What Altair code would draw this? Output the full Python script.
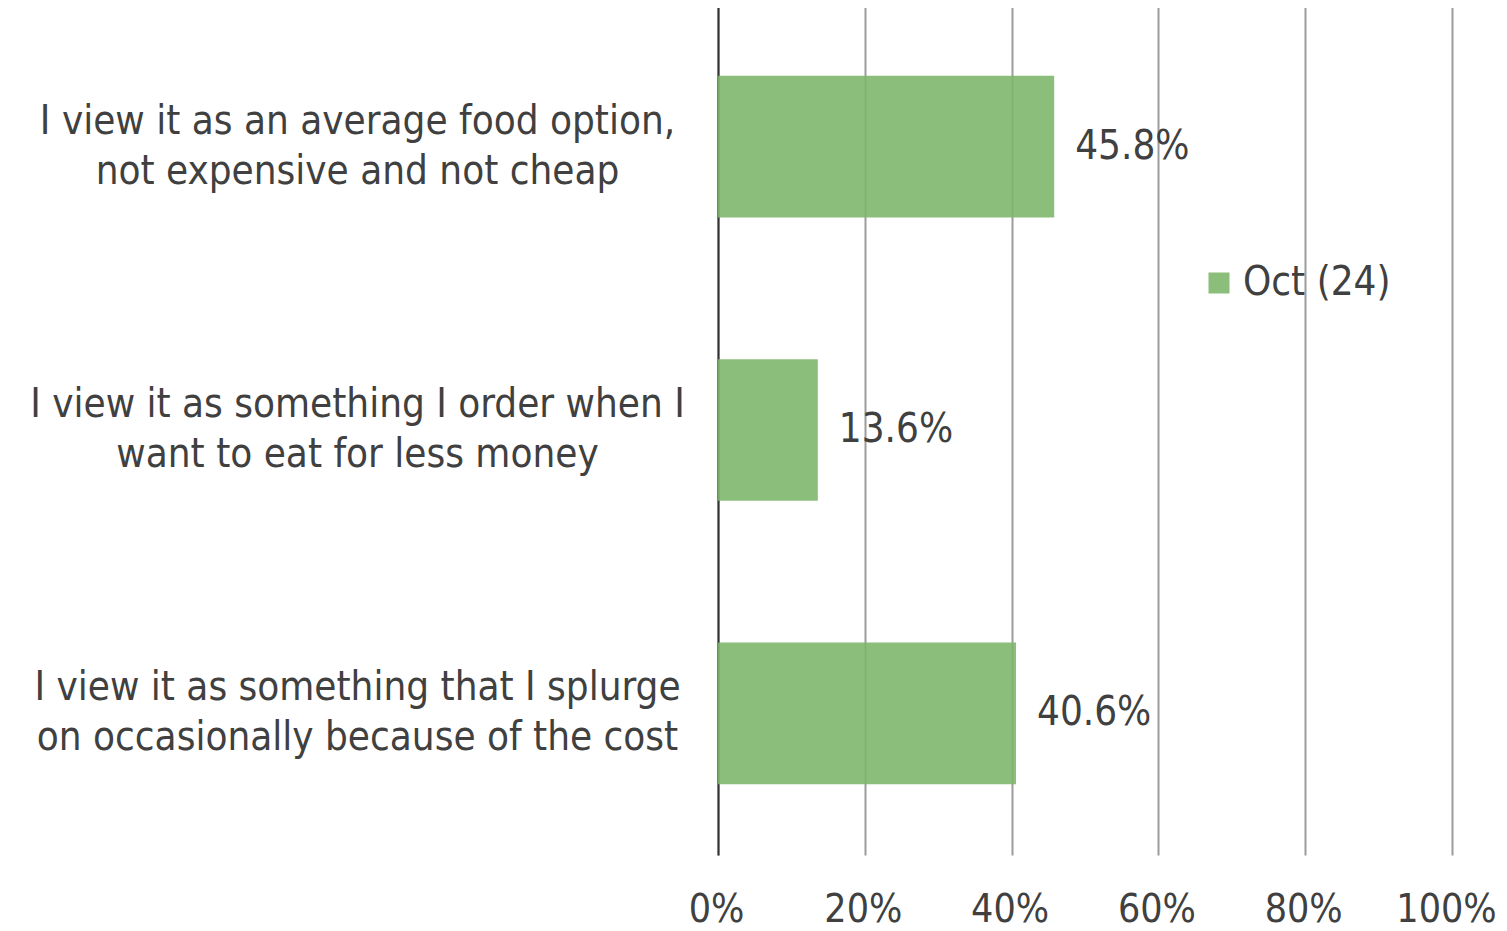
import altair as alt
import pandas as pd

categories = [
    "I view it as an average food option,\nnot expensive and not cheap",
    "I view it as something I order when I\nwant to eat for less money",
    "I view it as something that I splurge\non occasionally because of the cost",
]
values = [0.458, 0.136, 0.406]
labels = ["45.8%", "13.6%", "40.6%"]
series = ["Oct (24)"] * 3

df = pd.DataFrame({"cat": categories, "val": values, "lab": labels, "series": series})

FONT = "DejaVu Sans Condensed, DejaVu Sans, sans-serif"
TXT = "#404040"
FS = 40

base = alt.Chart(df)

bars = base.mark_bar(opacity=0.89).encode(
    y=alt.Y(
        "cat:N",
        sort=None,
        title=None,
        scale=alt.Scale(paddingInner=0.5, paddingOuter=0.25),
        axis=alt.Axis(
            labelExpr="split(datum.label, '\\n')",
            labelAlign="center",
            labelBaseline="middle",
            labelPadding=361,
            labelOffset=-25,
            labelLineHeight=50,
            labelFontSize=FS,
            labelFont=FONT,
            labelColor=TXT,
            labelLimit=1000,
            ticks=False,
            tickSize=0,
            domain=True,
            domainColor="#333333",
            domainWidth=2,
            grid=False,
        ),
    ),
    x=alt.X(
        "val:Q",
        title=None,
        scale=alt.Scale(domain=[0, 1], nice=False),
        axis=alt.Axis(
            values=[0, 0.2, 0.4, 0.6, 0.8, 1.0],
            format=".0%",
            labelFontSize=39,
            labelFont=FONT,
            labelColor=TXT,
            labelPadding=35,
            labelOffset={"condition": {"test": "datum.value >= 1", "value": -6}, "value": -2},
            labelBaseline="top",
            labelFlush=False,
            labelOverlap=False,
            ticks=False,
            tickSize=0,
            domain=False,
            grid=True,
            gridColor="#9C9C9C",
            gridWidth=2,
        ),
    ),
    color=alt.Color(
        "series:N",
        scale=alt.Scale(domain=["Oct (24)"], range=["#7DB66A"]),
        legend=alt.Legend(
            title=None,
            orient="none",
            legendX=481,
            legendY=258,
            padding=0,
            symbolType="square",
            symbolSize=441,
            symbolOpacity=0.89,
            symbolStrokeWidth=0,
            labelFontSize=FS,
            labelFont=FONT,
            labelColor=TXT,
            labelOffset=4,
        ),
    ),
)

text = base.mark_text(
    align="left", baseline="middle", dx=21, fontSize=FS, font=FONT, color=TXT
).encode(
    y=alt.Y("cat:N", sort=None),
    x="val:Q",
    text="lab:N",
)

chart = (
    (bars + text)
    .properties(
        width=734,
        height=850,
        autosize=alt.AutoSizeParams(type="none"),
        padding={"left": 710, "top": -3, "right": 47, "bottom": 76},
    )
    .configure_view(stroke=None)
)

chart.save("out.html", embed_options={"renderer": "svg", "actions": False})
